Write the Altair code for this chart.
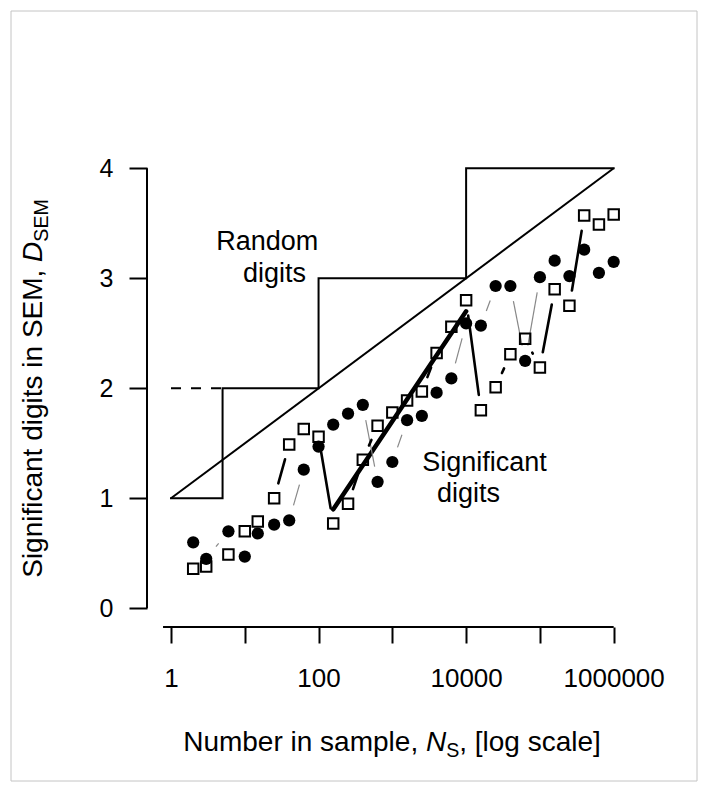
import math
import altair as alt
import pandas as pd

# ---------------- data ----------------
n_values = [2, 3, 6, 10, 15, 25, 40, 63, 100, 158, 251, 398, 631, 1000, 1585,
            2512, 3981, 6310, 10000, 15849, 25119, 39811, 63096, 100000,
            158489, 251189, 398107, 630957, 1000000]
circle_d = [0.60, 0.45, 0.70, 0.47, 0.68, 0.76, 0.80, 1.26, 1.47, 1.67, 1.77,
            1.85, 1.15, 1.33, 1.71, 1.75, 1.96, 2.09, 2.59, 2.57, 2.93, 2.93,
            2.25, 3.01, 3.16, 3.02, 3.26, 3.05, 3.15]
square_d = [0.36, 0.38, 0.49, 0.70, 0.79, 1.00, 1.49, 1.63, 1.56, 0.77, 0.95,
            1.35, 1.66, 1.78, 1.89, 1.97, 2.32, 2.56, 2.80, 1.80, 2.01, 2.31,
            2.45, 2.19, 2.90, 2.75, 3.57, 3.49, 3.58]

stair_n = [1, 5, 5, 100, 100, 10000, 10000, 1000000]
stair_d = [1, 1, 2, 2, 3, 3, 4, 4]
diag_n = [1, 1000000]
diag_d = [1, 4]
dash_n = [1, 5]
dash_d = [2, 2]
slope_n = [158.5, 10000]
slope_d = [0.9, 2.7]

x_tick_values = [1, 10, 100, 1000, 10000, 100000, 1000000]
x_tick_labels = ["1", "", "100", "", "10000", "", "1000000"]
y_tick_values = [0, 1, 2, 3, 4]
x_axis_span = [0.78, 1000000]
y_axis_span = [0, 4]

# ---------------- layout ----------------
W, H = 493, 487
PX_DEC = 73.78      # pixels per decade
PX_UNIT = 110.0     # pixels per digit
X0 = 24.0           # view x of N = 1
Y0 = 468.3          # view y of D = 0
GAP = 15.5          # gap around points for the connecting lines
FONT = "Liberation Sans"

x_lo = 10 ** (-X0 / PX_DEC)
x_hi = 10 ** ((W - X0) / PX_DEC)
y_lo = -(H - Y0) / PX_UNIT
y_hi = Y0 / PX_UNIT

label_expr = "{" + ",".join(f"'{v}':'{t}'" for v, t in zip(x_tick_values, x_tick_labels)) + "}[format(datum.value,'d')]"

xs = alt.Scale(type="log", domain=[x_lo, x_hi], nice=False)
ys = alt.Scale(domain=[y_lo, y_hi], nice=False, zero=False)
x_axis = alt.Axis(values=x_tick_values, labelExpr=label_expr, tickSize=16, tickWidth=2,
                  tickColor="black", domain=False, grid=False, labelFont=FONT,
                  labelFontSize=26, labelColor="black", labelPadding=43,
                  labelBaseline="alphabetic", labelOverlap=False, labelFlush=False,
                  labelBound=False, title="")
y_axis = alt.Axis(values=y_tick_values, format="d", tickSize=18, tickWidth=2,
                  tickColor="black", domain=False, grid=False, labelFont=FONT,
                  labelFontSize=25, labelColor="black", labelPadding=16,
                  labelAngle=0, labelOverlap=False, labelFlush=False, title="")


def X(f):
    return alt.X(f, type="quantitative", scale=xs, axis=x_axis)


def Y(f):
    return alt.Y(f, type="quantitative", scale=ys, axis=y_axis)


def path_df(ns, ds):
    return pd.DataFrame({"n": ns, "d": ds, "i": list(range(len(ns)))})


def gap_segments(ns, ds, gap):
    rows = []
    for i in range(len(ns) - 1):
        l1, l2 = math.log10(ns[i]), math.log10(ns[i + 1])
        d1, d2 = ds[i], ds[i + 1]
        L = math.hypot((l2 - l1) * PX_DEC, (d2 - d1) * PX_UNIT)
        if L <= 2 * gap:
            continue
        t = gap / L
        rows.append({"n": 10 ** (l1 + t * (l2 - l1)), "d": d1 + t * (d2 - d1),
                     "n2": 10 ** (l2 - t * (l2 - l1)), "d2": d2 - t * (d2 - d1)})
    return pd.DataFrame(rows)


def line_layer(df, **mk):
    return alt.Chart(df).mark_line(**mk).encode(x=X("n"), y=Y("d"), order="i:Q")


one = pd.DataFrame({"a": [0]})

border = alt.Chart(one).mark_rect(filled=False, stroke="#c4c4c4", strokeWidth=1).encode(
    x=alt.value(-136), x2=alt.value(550), y=alt.value(-129), y2=alt.value(641))

stair = line_layer(path_df(stair_n, stair_d), color="black", strokeWidth=2, strokeCap="square")
dash = line_layer(path_df(dash_n, dash_d), color="black", strokeWidth=2, strokeDash=[10, 10])
diag = line_layer(path_df(diag_n, diag_d), color="black", strokeWidth=2)
slope = line_layer(path_df(slope_n, slope_d), color="black", strokeWidth=4.5, strokeCap="round")

gray_seg = alt.Chart(gap_segments(n_values, circle_d, GAP)).mark_rule(
    color="#888888", strokeWidth=1.2).encode(x=X("n"), x2="n2", y=Y("d"), y2="d2")
black_seg = alt.Chart(gap_segments(n_values, square_d, GAP)).mark_rule(
    color="black", strokeWidth=2.6, strokeCap="round").encode(x=X("n"), x2="n2", y=Y("d"), y2="d2")

pts = pd.DataFrame({"n": n_values, "c": circle_d, "s": square_d})
circles = alt.Chart(pts).mark_point(shape="circle", filled=True, color="black", size=150,
                                    opacity=1).encode(x=X("n"), y=Y("c"))
squares = alt.Chart(pts).mark_point(shape="square", filled=False, color="black", size=110,
                                    strokeWidth=2, opacity=1).encode(x=X("n"), y=Y("s"))

xline = alt.Chart(pd.DataFrame({"n": [x_axis_span[0]], "n2": [x_axis_span[1]]})).mark_rule(
    color="black", strokeWidth=2).encode(x=X("n"), x2="n2", y=alt.value(H))
yline = alt.Chart(pd.DataFrame({"d": [y_axis_span[0]], "d2": [y_axis_span[1]]})).mark_rule(
    color="black", strokeWidth=2).encode(y=Y("d"), y2="d2", x=alt.value(0))

ann = pd.DataFrame({
    "n": [20.2, 25.3, 17740, 10770],
    "d": [3.257, 2.969, 1.251, 0.969],
    "t": ["Random", "digits", "Significant", "digits"],
})
ann_layer = alt.Chart(ann).mark_text(font=FONT, fontSize=27, align="center",
                                     baseline="alphabetic", color="black").encode(
    x=X("n"), y=Y("d"), text="t:N")

# ---------- composite axis titles (italic symbol + subscript) ----------
AW = {" ": 278, ",": 278, "[": 278, "]": 278, "a": 556, "b": 556, "c": 500, "d": 556,
      "e": 556, "f": 278, "g": 556, "i": 222, "l": 222, "m": 833, "n": 556, "o": 556,
      "p": 556, "r": 333, "s": 500, "t": 278, "u": 556, "D": 722, "E": 667, "M": 833,
      "N": 722, "S": 667}


def tw(s, size):
    return sum(AW.get(ch, 556) for ch in s) * size / 1000.0


def piece(text, x, y, size, italic=False, angle=0):
    kw = dict(align="left", baseline="alphabetic", font=FONT, fontSize=size,
              color="black", angle=angle, text=text)
    if italic:
        kw["fontStyle"] = "italic"
    return alt.Chart(one).mark_text(**kw).encode(x=alt.value(x), y=alt.value(y))


FT = 28
FS = FT * 0.7
SUB = FT * 0.2

# x title
xt = ["Number in sample, ", "N", "S", ", [log scale]"]
xw = [tw(xt[0], FT), tw(xt[1], FT), tw(xt[2], FS), tw(xt[3], FT)]
xc, xb = 245.0, 611.0
x0 = xc - sum(xw) / 2
titles = [
    piece(xt[0], x0, xb, FT),
    piece(xt[1], x0 + xw[0], xb, FT, italic=True),
    piece(xt[2], x0 + xw[0] + xw[1], xb + SUB, FS),
    piece(xt[3], x0 + xw[0] + xw[1] + xw[2], xb, FT),
]

# y title (rotated)
yt = ["Significant digits in SEM, ", "D", "SEM"]
yw = [tw(yt[0], FT), tw(yt[1], FT), tw(yt[2], FS)]
yc, yb = 248.5, -105.0
y0 = yc + sum(yw) / 2
titles += [
    piece(yt[0], yb, y0, FT, angle=270),
    piece(yt[1], yb, y0 - yw[0], FT, italic=True, angle=270),
    piece(yt[2], yb + SUB, y0 - yw[0] - yw[1], FS, angle=270),
]

chart = alt.layer(
    border, stair, dash, diag, slope, gray_seg, black_seg, circles, squares,
    xline, yline, ann_layer, *titles
).properties(
    width=W, height=H,
    padding={"left": 139, "top": 132, "right": 59, "bottom": 156},
    autosize=alt.AutoSizeParams(type="none"),
    background="white",
).configure_view(strokeWidth=0)

chart.save("out.html", embed_options={"renderer": "svg", "actions": False})
